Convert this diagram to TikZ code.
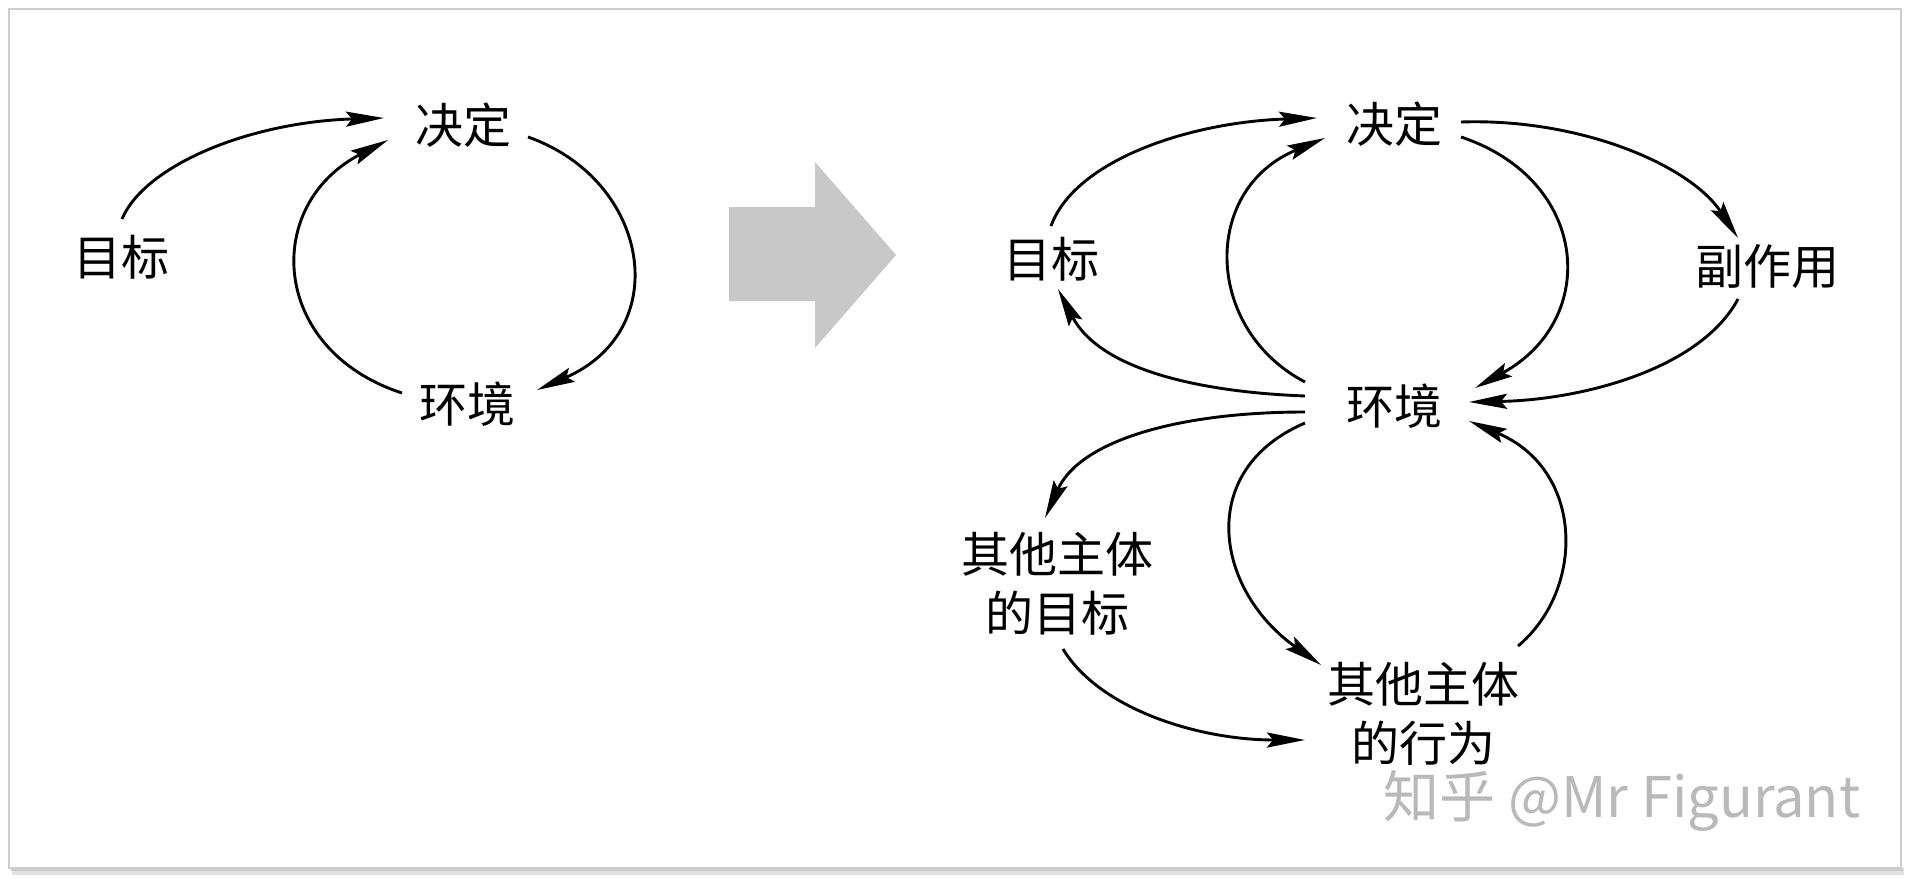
\documentclass[tikz,border=0pt]{standalone}
\usepackage{fontspec}
\newfontfamily\cjk{Noto Sans CJK SC}
\usetikzlibrary{arrows.meta}
\definecolor{framec}{RGB}{205,205,205}
\definecolor{bigarrow}{RGB}{200,200,200}
\definecolor{wmark}{RGB}{185,185,185}
\begin{document}
\begin{tikzpicture}[x=1pt,y=-1pt,
  lbl/.style={font=\cjk\fontsize{48}{59}\selectfont, inner sep=0pt, align=center},
  arr/.style={line width=2.9pt, -{Stealth[length=38pt,width=15pt,inset=6pt]}}]
\useasboundingbox (0,0) rectangle (1912,883);
\fill[white] (0,0) rectangle (1912,883);
% frame with shadow
\fill[black!12] (12,868) rectangle (1904,875);
\fill[black!20] (11,868) rectangle (1903,871);
\draw[framec, line width=1.6pt] (9,9) rectangle (1901,868);

% ---------- left diagram ----------
\node[lbl] (jdL) at (463,125) {决定};
\node[lbl] (mbL) at (121,257) {目标};
\node[lbl] (hjL) at (467,404) {环境};

\draw[arr] ([shift={(1,-38)}]mbL.center) .. controls (145,165) and (250,122) .. ([shift={(-79,-7)}]jdL.center);
\draw[arr] ([shift={(65,12)}]jdL.center) .. controls (650,180) and (675,330) .. ([shift={(70,-14)}]hjL.center);
\draw[arr] ([shift={(-65,-11)}]hjL.center) .. controls (270,350) and (262,205) .. ([shift={(-75,15)}]jdL.center);

% ---------- big gray arrow ----------
\fill[bigarrow] (729,207) -- (815,207) -- (815,162) -- (896,255) -- (815,348) -- (815,301) -- (729,301) -- cycle;

% ---------- right diagram ----------
\node[lbl] (jd) at (1394,124) {决定};
\node[lbl] (mb) at (1051,259) {目标};
\node[lbl] (fz) at (1767,266) {副作用};
\node[lbl] (hj) at (1394,406) {环境};
\node[lbl] (qm) at (1057,584) {其他主体\\的目标};
\node[lbl] (qx) at (1423,714) {其他主体\\的行为};

\draw[arr] ([shift={(0,-33)}]mb.center) .. controls (1075,160) and (1190,122) .. ([shift={(-77,-6)}]jd.center);
\draw[arr] ([shift={(-89,-24)}]hj.center) .. controls (1205,330) and (1200,190) .. ([shift={(-69,14)}]jd.center);
\draw[arr] ([shift={(67,13)}]jd.center) .. controls (1590,180) and (1600,320) .. ([shift={(81,-18)}]hj.center);
\draw[arr] ([shift={(67,-2)}]jd.center) .. controls (1580,118) and (1690,165) .. ([shift={(-29,-28)}]fz.center);
\draw[arr] ([shift={(-29,33)}]fz.center) .. controls (1700,370) and (1580,400) .. ([shift={(75,-4)}]hj.center);
\draw[arr] ([shift={(-89,-10)}]hj.center) .. controls (1200,392) and (1100,370) .. ([shift={(7,30)}]mb.center);
\draw[arr] ([shift={(-89,6)}]hj.center) .. controls (1180,412) and (1080,440) .. ([shift={(-12,-66)}]qm.center);
\draw[arr] ([shift={(-89,17)}]hj.center) .. controls (1195,470) and (1215,590) .. ([shift={(-102,-49)}]qx.center);
\draw[arr] ([shift={(95,-68)}]qx.center) .. controls (1585,590) and (1585,470) .. ([shift={(75,15)}]hj.center);
\draw[arr] ([shift={(6,65)}]qm.center) .. controls (1100,710) and (1200,740) .. ([shift={(-118,26)}]qx.center);

% watermark
\node[font=\cjk\fontsize{56}{60}\selectfont, text=wmark, inner sep=0pt] (wm) at (1622,801) {知乎 @Mr Figurant};
\end{tikzpicture}
\end{document}
